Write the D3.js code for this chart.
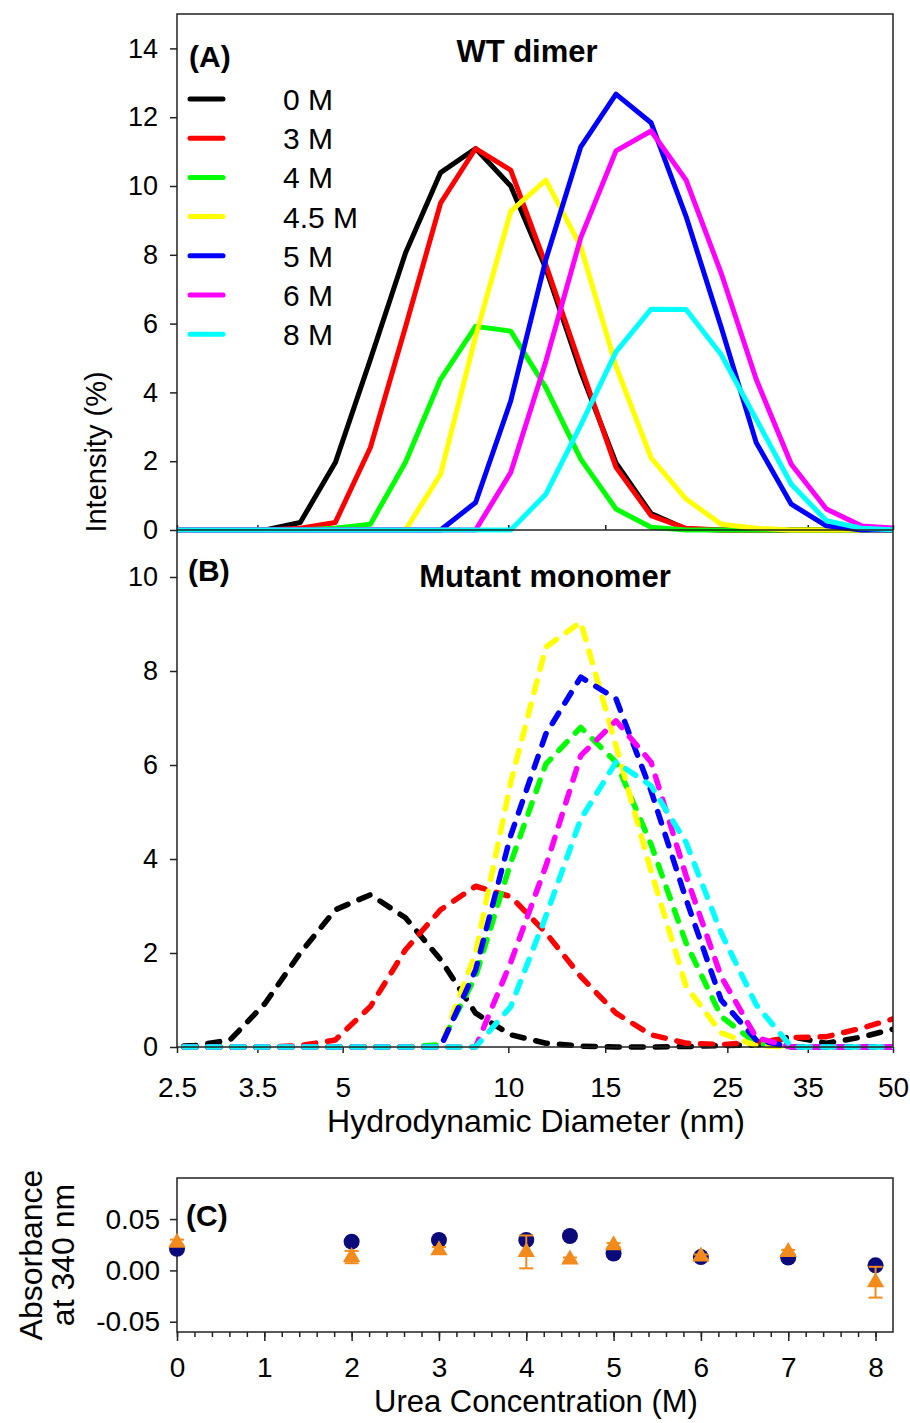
<!DOCTYPE html>
<html>
<head>
<meta charset="utf-8">
<script src="https://cdn.jsdelivr.net/npm/d3@7"></script>
<style>
  body { margin: 0; background: #fff; }
  svg text { font-family: "Liberation Sans", Arial, sans-serif; fill: #000; }
</style>
</head>
<body>
<div id="chart-container"></div>
<script>
// DLS size bins (nm)
const sizes = [2.328, 2.696, 3.122, 3.615, 4.187, 4.849, 5.615, 6.503, 7.531, 8.721, 10.10,
  11.70, 13.54, 15.69, 18.17, 21.04, 24.36, 28.21, 32.67, 37.84, 43.82, 50.75];
const conc = ["0 M", "3 M", "4 M", "4.5 M", "5 M", "6 M", "8 M"];
const colors = ["#000000", "#ff0000", "#00ff00", "#ffff00", "#0000ff", "#ff00ff", "#00ffff"];

// (A) WT dimer, intensity %
const wt0 = [0, 0, 0, 0, 0.22, 1.96, 4.96, 8.05, 10.39, 11.09, 10.0, 7.6, 4.6, 1.95, 0.48, 0.03, 0, 0, 0, 0, 0, 0];
const wt3 = [0, 0, 0, 0, 0.05, 0.22, 2.4, 5.9, 9.5, 11.09, 10.46, 7.71, 4.76, 1.82, 0.42, 0.05, 0, 0, 0, 0, 0, 0];
const wt4 = [0, 0, 0, 0, 0, 0.05, 0.17, 1.97, 4.38, 5.92, 5.78, 4.14, 2.06, 0.61, 0.08, 0, 0, 0, 0, 0, 0, 0];
const wt45 = [0, 0, 0, 0, 0, 0, 0, 0, 1.62, 5.63, 9.26, 10.17, 8.24, 4.76, 2.1, 0.9, 0.17, 0.05, 0, 0, 0, 0];
const wt5 = [0, 0, 0, 0, 0, 0, 0, 0, 0, 0.8, 3.75, 7.86, 11.14, 12.67, 11.84, 9.11, 5.9, 2.54, 0.75, 0.12, 0, 0];
const wt6 = [0, 0, 0, 0, 0, 0, 0, 0, 0, 0, 1.67, 4.9, 8.5, 11.02, 11.6, 10.17, 7.47, 4.38, 1.91, 0.61, 0.12, 0.05];
const wt8 = [0, 0, 0, 0, 0, 0, 0, 0, 0, 0, 0, 1.04, 3.05, 5.18, 6.42, 6.41, 5.1, 3.22, 1.33, 0.27, 0.05, 0];

// (B) Mutant monomer, intensity %
const mt0 = [0, 0.03, 0.15, 0.93, 2.0, 2.92, 3.24, 2.75, 1.86, 0.72, 0.26, 0.08, 0.02, 0, 0, 0.01, 0.03, 0.04, 0.22, 0.08, 0.21, 0.4];
const mt3 = [0, 0, 0, 0, 0.03, 0.15, 0.86, 2.07, 2.92, 3.42, 3.2, 2.43, 1.5, 0.72, 0.26, 0.08, 0.05, 0.1, 0.2, 0.22, 0.4, 0.62];
const mt4 = [0, 0, 0, 0, 0, 0, 0, 0, 0.05, 1.5, 3.92, 6.02, 6.8, 6.06, 4.31, 2.21, 0.65, 0.08, 0, 0, 0, 0];
const mt45 = [0, 0, 0, 0, 0, 0, 0, 0, 0, 2.0, 5.63, 8.51, 9.04, 6.41, 3.74, 1.29, 0.3, 0.03, 0, 0, 0, 0];
const mt5 = [0, 0, 0, 0, 0, 0, 0, 0, 0, 1.64, 4.5, 6.66, 7.87, 7.41, 5.45, 3.14, 1.0, 0.15, 0, 0, 0, 0];
const mt6 = [0, 0, 0, 0, 0, 0, 0, 0, 0, 0, 1.8, 3.85, 6.2, 6.94, 6.06, 3.64, 1.5, 0.2, 0, 0, 0, 0];
const mt8 = [0, 0, 0, 0, 0, 0, 0, 0, 0, 0, 0.86, 2.78, 4.85, 6.06, 5.56, 4.35, 2.43, 0.9, 0, 0, 0, 0];

const sizeTicks = [2.5, 3.5, 5, 10, 15, 25, 35, 50];
const ticksA = [0, 2, 4, 6, 8, 10, 12, 14];
const ticksB = [0, 2, 4, 6, 8, 10];

// (C) absorbance at 340 nm vs urea
const urea = [0, 2, 3, 4, 4.5, 5, 6, 7, 8];
const absCircle = [0.021, 0.028, 0.0296, 0.0296, 0.0335, 0.0164, 0.013, 0.0125, 0.0049];
const absTriangle = [0.027, 0.013, 0.0197, 0.018, 0.0105, 0.0246, 0.0135, 0.018, -0.0115];
const errTriangle = [0.003, 0.006, 0.003, 0.016, 0.002, 0.002, 0.002, 0.002, 0.015];
const ureaTicks = [0, 1, 2, 3, 4, 5, 6, 7, 8];
const absTicks = [-0.05, 0, 0.05];

function init() {
  const W = 910, H = 1423;
  const left = 177, right = 893;

  const svg = d3.select("#chart-container")
    .append("svg")
      .attr("width", W)
      .attr("height", H);

  const x = d3.scaleLog().domain([2.5, 50]).range([left, right]);
  const yA = d3.scaleLinear().domain([0, 15]).range([530, 14]);
  const yB = d3.scaleLinear().domain([0, 11]).range([1047, 530]);

  const defs = svg.append("defs");
  defs.append("clipPath").attr("id", "clipA")
    .append("rect").attr("x", left).attr("y", 14).attr("width", right - left).attr("height", 520);
  defs.append("clipPath").attr("id", "clipB")
    .append("rect").attr("x", left).attr("y", 531).attr("width", right - left).attr("height", 520);

  // styling helper for axes
  function styleAxis(g, fontSize) {
    g.select(".domain").remove();
    g.selectAll(".tick line").attr("stroke", "#222").attr("stroke-width", 1.5);
    g.selectAll(".tick text")
      .attr("font-size", fontSize)
      .attr("font-family", "Liberation Sans, Arial, sans-serif")
      .attr("fill", "#000");
  }

  // ---- Panel A ----
  const gA = svg.append("g");
  gA.append("g")
    .attr("transform", `translate(${left},0)`)
    .call(d3.axisLeft(yA).tickValues(ticksA).tickSize(7).tickPadding(12))
    .call(g => styleAxis(g, 27));
  gA.append("g")
    .attr("transform", `translate(0,530)`)
    .call(d3.axisTop(x).tickValues(sizeTicks).tickSize(5).tickFormat(""))
    .call(g => styleAxis(g, 27));

  const lineA = d3.line().x((d, i) => x(sizes[i])).y(d => yA(d));
  const seriesA = [wt0, wt3, wt4, wt45, wt5, wt6, wt8];
  gA.append("g").attr("clip-path", "url(#clipA)")
    .selectAll("path")
    .data(seriesA)
    .enter()
    .append("path")
      .attr("d", lineA)
      .attr("fill", "none")
      .attr("stroke", (d, i) => colors[i])
      .attr("stroke-width", 5)
      .attr("stroke-linejoin", "round");

  // ---- Panel B ----
  const gB = svg.append("g");
  gB.append("g")
    .attr("transform", `translate(${left},0)`)
    .call(d3.axisLeft(yB).tickValues(ticksB).tickSize(7).tickPadding(12))
    .call(g => styleAxis(g, 27));
  gB.append("g")
    .attr("transform", `translate(0,1047)`)
    .call(d3.axisBottom(x).tickValues(sizeTicks).tickSize(6).tickPadding(24).tickFormat(d => d))
    .call(g => styleAxis(g, 28));

  const lineB = d3.line().x((d, i) => x(sizes[i])).y(d => yB(d));
  const seriesB = [mt0, mt3, mt4, mt45, mt5, mt6, mt8];
  gB.append("g").attr("clip-path", "url(#clipB)")
    .selectAll("path")
    .data(seriesB)
    .enter()
    .append("path")
      .attr("d", lineB)
      .attr("fill", "none")
      .attr("stroke", (d, i) => colors[i])
      .attr("stroke-width", 5.5)
      .attr("stroke-dasharray", "12,12")
      .attr("stroke-linecap", "round")
      .attr("stroke-linejoin", "round");

  // frame for A and B
  svg.append("rect")
    .attr("x", left).attr("y", 14)
    .attr("width", right - left).attr("height", 1047 - 14)
    .attr("fill", "none").attr("stroke", "#222").attr("stroke-width", 1.5);
  svg.append("line")
    .attr("x1", left).attr("x2", right).attr("y1", 530).attr("y2", 530)
    .attr("stroke", "#222").attr("stroke-width", 1.5);

  // panel labels and titles
  svg.append("text").attr("x", 189).attr("y", 67)
    .attr("font-size", 30).attr("font-weight", "bold").text("(A)");
  svg.append("text").attr("x", 527).attr("y", 62).attr("text-anchor", "middle")
    .attr("font-size", 31).attr("font-weight", "bold").text("WT dimer");
  svg.append("text").attr("x", 188).attr("y", 581)
    .attr("font-size", 30).attr("font-weight", "bold").text("(B)");
  svg.append("text").attr("x", 545).attr("y", 587).attr("text-anchor", "middle")
    .attr("font-size", 31).attr("font-weight", "bold").text("Mutant monomer");

  // legend
  const legend = svg.append("g")
    .selectAll("g")
    .data(conc)
    .enter()
    .append("g")
      .attr("transform", (d, i) => `translate(190,${99 + i * 39.2})`);
  legend.append("line")
    .attr("x1", 0).attr("x2", 33)
    .attr("stroke", (d, i) => colors[i])
    .attr("stroke-width", 5)
    .attr("stroke-linecap", "round");
  legend.append("text")
    .attr("x", 93).attr("y", 11)
    .attr("font-size", 30)
    .text(d => d);

  // axis titles
  svg.append("text")
    .attr("transform", "translate(106,452) rotate(-90)")
    .attr("text-anchor", "middle").attr("font-size", 29)
    .text("Intensity (%)");
  svg.append("text")
    .attr("x", 536).attr("y", 1132)
    .attr("text-anchor", "middle").attr("font-size", 32)
    .text("Hydrodynamic Diameter (nm)");

  // ---- Panel C ----
  const xC = d3.scaleLinear().domain([0, 8.2]).range([left, right]);
  const yC = d3.scaleLinear().domain([-0.06, 0.09]).range([1332, 1178]);

  svg.append("g")
    .attr("transform", `translate(${left},0)`)
    .call(d3.axisLeft(yC).tickValues(absTicks).tickSize(7).tickPadding(10).tickFormat(d => d.toFixed(2)))
    .call(g => styleAxis(g, 28));
  svg.append("g")
    .attr("transform", "translate(0,1332)")
    .call(d3.axisBottom(xC).tickValues(d3.range(0, 41).map(i => i * 0.2)).tickSize(5).tickFormat(""))
    .call(g => styleAxis(g, 28));
  svg.append("g")
    .attr("transform", "translate(0,1332)")
    .call(d3.axisBottom(xC).tickValues(ureaTicks).tickSize(9).tickPadding(16))
    .call(g => styleAxis(g, 28));

  svg.append("rect")
    .attr("x", left).attr("y", 1178)
    .attr("width", right - left).attr("height", 1332 - 1178)
    .attr("fill", "none").attr("stroke", "#222").attr("stroke-width", 1.5);

  // circles
  svg.append("g")
    .selectAll("circle")
    .data(absCircle)
    .enter()
    .append("circle")
      .attr("cx", (d, i) => xC(urea[i]))
      .attr("cy", d => yC(d))
      .attr("r", 8)
      .attr("fill", "#0a0a7a");

  // triangles with error bars
  const orange = "#f28a1c";
  const tri = svg.append("g")
    .selectAll("g")
    .data(absTriangle)
    .enter()
    .append("g");
  tri.append("line")
    .attr("x1", (d, i) => xC(urea[i])).attr("x2", (d, i) => xC(urea[i]))
    .attr("y1", (d, i) => yC(d - errTriangle[i])).attr("y2", (d, i) => yC(d + errTriangle[i]))
    .attr("stroke", orange).attr("stroke-width", 2);
  [-1, 1].forEach(s => {
    tri.append("line")
      .attr("x1", (d, i) => xC(urea[i]) - 7).attr("x2", (d, i) => xC(urea[i]) + 7)
      .attr("y1", (d, i) => yC(d + s * errTriangle[i])).attr("y2", (d, i) => yC(d + s * errTriangle[i]))
      .attr("stroke", orange).attr("stroke-width", 2);
  });
  tri.append("path")
    .attr("d", d3.symbol(d3.symbolTriangle, 130))
    .attr("transform", (d, i) => `translate(${xC(urea[i])},${yC(d)})`)
    .attr("fill", orange);

  svg.append("text").attr("x", 186).attr("y", 1226)
    .attr("font-size", 30).attr("font-weight", "bold").text("(C)");

  svg.append("text")
    .attr("transform", "translate(42,1255) rotate(-90)")
    .attr("text-anchor", "middle").attr("font-size", 32)
    .text("Absorbance");
  svg.append("text")
    .attr("transform", "translate(74,1255) rotate(-90)")
    .attr("text-anchor", "middle").attr("font-size", 32)
    .text("at 340 nm");
  svg.append("text")
    .attr("x", 536).attr("y", 1412)
    .attr("text-anchor", "middle").attr("font-size", 31)
    .text("Urea Concentration (M)");
}

window.onload = init;
</script>
</body>
</html>
